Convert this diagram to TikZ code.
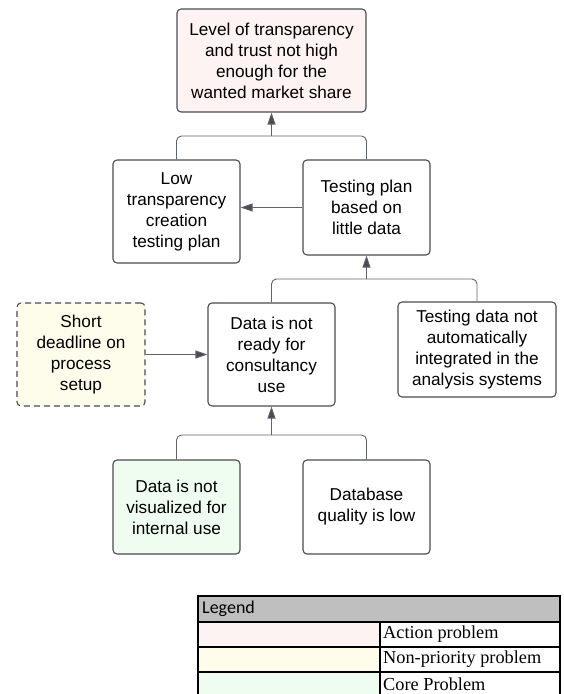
\documentclass[tikz,border=0pt]{standalone}
\usepackage{fontspec}
\setmainfont{Liberation Sans}
\newfontfamily\legendfont{Carlito}
\newfontfamily\tablefont{Liberation Serif}
\usetikzlibrary{arrows.meta}
\definecolor{actioncol}{HTML}{FDF3F2}
\definecolor{nonprio}{HTML}{FEFDEB}
\definecolor{corecol}{HTML}{EFFDF0}
\definecolor{boxline}{HTML}{4A4C50}
\definecolor{linkcol}{HTML}{5E646E}
\definecolor{headgray}{HTML}{BFBFBF}

\begin{document}
\begin{tikzpicture}[x=1pt,y=-1pt,
  problem/.style={draw=boxline,line width=1.1pt,rounded corners=4pt,align=center,inner sep=0pt,font=\fontsize{17.2}{21}\selectfont},
  link/.style={draw=linkcol,line width=0.9pt,rounded corners=5pt},
  tip/.style={link,-{Triangle[width=8pt,length=12pt,fill=boxline]}},
  cell/.style={draw=black,line width=1.2pt}]
\clip (0,0) rectangle (564,694);

% problem boxes
\node[problem,fill=actioncol,minimum width=189pt,minimum height=103pt] (market) at (271.5,60.5) {Level of transparency\\and trust not high\\enough for the\\wanted market share};
\node[problem,minimum width=127pt,minimum height=103pt] (lowplan) at (176.5,211.5) {Low\\transparency\\creation\\testing plan};
\node[problem,minimum width=127pt,minimum height=95pt] (testplan) at (366.5,207.5) {Testing plan\\based on\\little data};
\node[problem,dash pattern=on 6pt off 4pt,fill=nonprio,minimum width=128pt,minimum height=103pt] (deadline) at (81,354.5) {Short\\deadline on\\process\\setup};
\node[problem,minimum width=127pt,minimum height=103pt] (notready) at (271.5,354.5) {Data is not\\ready for\\consultancy\\use};
\node[problem,minimum width=158pt,minimum height=95pt] (autodata) at (477,349.5) {Testing data not\\automatically\\integrated in the\\analysis systems};
\node[problem,fill=corecol,minimum width=127pt,minimum height=94pt] (visual) at (176.5,507) {Data is not\\visualized for\\internal use};
\node[problem,minimum width=127pt,minimum height=94pt] (dbquality) at (366.5,507) {Database\\quality is low};

% connectors
\coordinate (j1) at (271.5,136);
\coordinate (j2) at (366.5,279);
\coordinate (j3) at (271.5,435);
\draw[link] (lowplan.north) |- (j1) -| (testplan.north);
\draw[tip] (j1) -- (market.south);
\draw[tip] (testplan.west) -- (testplan.west -| lowplan.east);
\draw[link] (notready.north) |- (j2) -| (autodata.north);
\draw[tip] (j2) -- (testplan.south);
\draw[tip] (deadline.east) -- (notready.west);
\draw[link] (visual.north) |- (j3) -| (dbquality.north);
\draw[tip] (j3) -- (notready.south);

% legend
\fill[headgray] (198,596) rectangle (560,622);
\fill[actioncol] (198,622) rectangle (380,647);
\fill[nonprio] (198,647) rectangle (380,672);
\fill[corecol] (198,672) rectangle (380,697);
\draw[cell] (198,596) rectangle (560,697);
\draw[cell] (198,622) -- (560,622) (198,647) -- (560,647) (198,672) -- (560,672) (380,622) -- (380,697);
\node[anchor=west,inner sep=0pt,font=\legendfont\fontsize{18}{20}\selectfont] (legendhead) at (202,609) {Legend};
\node[anchor=west,inner sep=0pt,font=\tablefont\fontsize{18.3}{20}\selectfont] (actionrow) at (383,634.5) {Action problem};
\node[anchor=west,inner sep=0pt,font=\tablefont\fontsize{18.3}{20}\selectfont] (nonpriorow) at (383,659.5) {Non-priority problem};
\node[anchor=west,inner sep=0pt,font=\tablefont\fontsize{18.3}{20}\selectfont] (corerow) at (383,684.5) {Core Problem};
\end{tikzpicture}
\end{document}
